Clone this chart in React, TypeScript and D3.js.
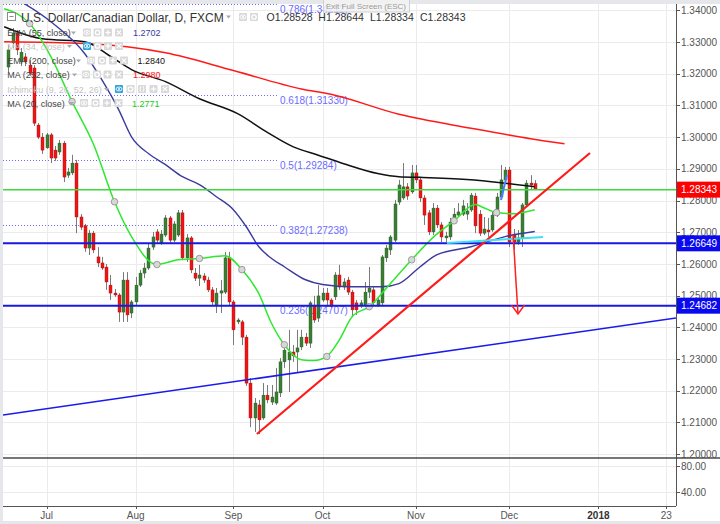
import React from 'react';
import * as d3 from 'd3';

// ---------------- data ----------------
const START_DATE = '2017-06-20';
const FIRST_INDEX = -9;

const opens = [
  1.3221, 1.3297, 1.3328, 1.3237, 1.3253, 1.3227, 1.3218, 1.3038, 1.3000, 1.2966,
  1.3007, 1.2959, 1.2953, 1.2981, 1.2880, 1.2887, 1.2918, 1.2748, 1.2720, 1.2650,
  1.2697, 1.2622, 1.2603, 1.2590, 1.2533, 1.2508, 1.2502, 1.2448, 1.2549, 1.2445,
  1.2480, 1.2533, 1.2571, 1.2587, 1.2653, 1.2701, 1.2666, 1.2691, 1.2745, 1.2675,
  1.2691, 1.2761, 1.2619, 1.2682, 1.2571, 1.2555, 1.2562, 1.2549, 1.2518, 1.2470,
  1.2508, 1.2511, 1.2619, 1.2480, 1.2417, 1.2417, 1.2369, 1.2224, 1.2114, 1.2155,
  1.2114, 1.2186, 1.2164, 1.2161, 1.2193, 1.2291, 1.2297, 1.2322, 1.2322, 1.2338,
  1.2369, 1.2350, 1.2470, 1.2429, 1.2486, 1.2508, 1.2486, 1.2496, 1.2565, 1.2527,
  1.2549, 1.2511, 1.2477, 1.2470, 1.2470, 1.2511, 1.2518, 1.2470, 1.2477, 1.2619,
  1.2644, 1.2675, 1.2795, 1.2808, 1.2843, 1.2827, 1.2887, 1.2865, 1.2808, 1.2761,
  1.2701, 1.2776, 1.2723, 1.2682, 1.2685, 1.2732, 1.2754, 1.2757, 1.2757, 1.2770,
  1.2814, 1.2757, 1.2697, 1.2707, 1.2707, 1.2754, 1.2811, 1.2865, 1.2896, 1.2694,
  1.2669, 1.2682, 1.2786, 1.2855, 1.28528,
];
const highs = [
  1.3291, 1.3344, 1.3338, 1.3281, 1.3265, 1.3243, 1.3227, 1.3044, 1.3013, 1.3013,
  1.3013, 1.2972, 1.2991, 1.2988, 1.2903, 1.2944, 1.2928, 1.2757, 1.2726, 1.2707,
  1.2704, 1.2653, 1.2622, 1.2600, 1.2565, 1.2521, 1.2508, 1.2574, 1.2574, 1.2486,
  1.2559, 1.2581, 1.2603, 1.2666, 1.2701, 1.2710, 1.2707, 1.2754, 1.2751, 1.2735,
  1.2770, 1.2770, 1.2694, 1.2688, 1.2587, 1.2597, 1.2571, 1.2559, 1.2527, 1.2524,
  1.2549, 1.2638, 1.2638, 1.2486, 1.2429, 1.2423, 1.2376, 1.2240, 1.2177, 1.2171,
  1.2224, 1.2218, 1.2218, 1.2272, 1.2303, 1.2344, 1.2392, 1.2344, 1.2392, 1.2392,
  1.2382, 1.2483, 1.2499, 1.2533, 1.2524, 1.2524, 1.2492, 1.2574, 1.2597, 1.2555,
  1.2559, 1.2518, 1.2486, 1.2486, 1.2543, 1.2590, 1.2527, 1.2492, 1.2628, 1.2660,
  1.2691, 1.2802, 1.2865, 1.2918, 1.2855, 1.2912, 1.2912, 1.2874, 1.2817, 1.2770,
  1.2792, 1.2786, 1.2732, 1.2701, 1.2745, 1.2776, 1.2792, 1.2802, 1.2792, 1.2824,
  1.2824, 1.2770, 1.2748, 1.2745, 1.2764, 1.2824, 1.2912, 1.2906, 1.2906, 1.2710,
  1.2707, 1.2792, 1.2865, 1.2880, 1.28644,
];
const lows = [
  1.3205, 1.3281, 1.3259, 1.3224, 1.3224, 1.3193, 1.3035, 1.2994, 1.2947, 1.2963,
  1.2918, 1.2925, 1.2944, 1.2858, 1.2871, 1.2880, 1.2697, 1.2707, 1.2638, 1.2628,
  1.2634, 1.2590, 1.2581, 1.2518, 1.2486, 1.2496, 1.2417, 1.2417, 1.2417, 1.2429,
  1.2470, 1.2527, 1.2555, 1.2581, 1.2644, 1.2666, 1.2660, 1.2685, 1.2663, 1.2669,
  1.2685, 1.2612, 1.2606, 1.2571, 1.2546, 1.2530, 1.2540, 1.2511, 1.2470, 1.2445,
  1.2445, 1.2505, 1.2470, 1.2344, 1.2410, 1.2344, 1.2215, 1.2085, 1.2070, 1.2063,
  1.2108, 1.2161, 1.2155, 1.2155, 1.2180, 1.2272, 1.2196, 1.2291, 1.2256, 1.2328,
  1.2341, 1.2335, 1.2414, 1.2417, 1.2480, 1.2464, 1.2461, 1.2486, 1.2518, 1.2518,
  1.2502, 1.2432, 1.2439, 1.2461, 1.2464, 1.2492, 1.2467, 1.2464, 1.2467, 1.2606,
  1.2628, 1.2669, 1.2786, 1.2802, 1.2802, 1.2821, 1.2855, 1.2795, 1.2723, 1.2691,
  1.2691, 1.2713, 1.2669, 1.2669, 1.2675, 1.2726, 1.2748, 1.2751, 1.2739, 1.2764,
  1.2697, 1.2688, 1.2691, 1.2685, 1.2701, 1.2748, 1.2805, 1.2858, 1.2653, 1.2644,
  1.2660, 1.2653, 1.2780, 1.2833, 1.28334,
];
const closes = [
  1.3275, 1.3328, 1.3275, 1.3268, 1.3237, 1.3202, 1.3044, 1.3000, 1.2959, 1.3007,
  1.2934, 1.2934, 1.2981, 1.2874, 1.2890, 1.2918, 1.2748, 1.2716, 1.2650, 1.2697,
  1.2644, 1.2603, 1.2587, 1.2543, 1.2508, 1.2502, 1.2448, 1.2549, 1.2439, 1.2480,
  1.2533, 1.2571, 1.2587, 1.2650, 1.2685, 1.2675, 1.2694, 1.2745, 1.2675, 1.2726,
  1.2761, 1.2619, 1.2682, 1.2581, 1.2555, 1.2565, 1.2549, 1.2518, 1.2480, 1.2508,
  1.2515, 1.2619, 1.2480, 1.2392, 1.2423, 1.2369, 1.2224, 1.2114, 1.2161, 1.2108,
  1.2186, 1.2171, 1.2180, 1.2196, 1.2291, 1.2328, 1.2322, 1.2310, 1.2335, 1.2369,
  1.2350, 1.2477, 1.2423, 1.2499, 1.2508, 1.2486, 1.2470, 1.2565, 1.2527, 1.2543,
  1.2511, 1.2455, 1.2455, 1.2477, 1.2511, 1.2524, 1.2477, 1.2486, 1.2622, 1.2650,
  1.2685, 1.2789, 1.2849, 1.2843, 1.2814, 1.2887, 1.2865, 1.2808, 1.2754, 1.2701,
  1.2776, 1.2723, 1.2685, 1.2688, 1.2732, 1.2757, 1.2764, 1.2783, 1.2767, 1.2817,
  1.2720, 1.2697, 1.2710, 1.2701, 1.2754, 1.2811, 1.2865, 1.2896, 1.2669, 1.2669,
  1.2682, 1.2786, 1.2855, 1.2849, 1.28343,
];

// indicator curves: [bar index, price]
const ema55Points: [number, number][] = [
  [-8, 1.3443], [1, 1.3364], [9, 1.3263], [13, 1.3181], [17, 1.3086], [20, 1.3001],
  [24, 1.2948], [28, 1.2913], [32, 1.2875], [36, 1.2850], [40, 1.2812], [44, 1.2771],
  [47, 1.2718], [50, 1.2654], [53, 1.2617], [56, 1.2591], [61, 1.2550], [65, 1.2535],
  [72, 1.2528], [79, 1.2528], [83, 1.2538], [88, 1.2591], [92, 1.2629], [100, 1.2654],
  [108, 1.2686], [115, 1.2702],
];
const ema200Points: [number, number][] = [
  [-10, 1.3348], [-1, 1.3310], [9, 1.3301], [15, 1.3255], [20, 1.3213], [28, 1.3175],
  [36, 1.3121], [45, 1.3074], [52, 1.3015], [58, 1.2970], [64, 1.2943], [70, 1.2916],
  [78, 1.2885], [83, 1.2875], [88, 1.2873], [99, 1.2866], [107, 1.2856], [115, 1.2843],
];
const ma252Points: [number, number][] = [
  [-10, 1.3301], [9, 1.3295], [28, 1.3266], [44, 1.3210], [60, 1.3152], [67, 1.3135],
  [83, 1.3072], [100, 1.3028], [114, 1.2995], [122, 1.2979],
];
const ma20Points: [number, number][] = [
  [-10, 1.3405], [-4, 1.3358], [1, 1.3254], [6, 1.3112], [11, 1.2979], [16, 1.2796],
  [20, 1.2686], [26, 1.2598], [31, 1.2613], [36, 1.2617], [42, 1.2626], [46, 1.2582],
  [50, 1.2506], [53, 1.2412], [56, 1.2345], [60, 1.2298], [63, 1.2295], [66, 1.2308],
  [69, 1.2361], [72, 1.2434], [76, 1.2465], [81, 1.2538], [86, 1.2613], [91, 1.2683],
  [96, 1.2736], [101, 1.2787], [103, 1.2777], [106, 1.2762], [110, 1.2758], [112, 1.2762],
  [115, 1.2771],
];
const ma20MarkerIdx = [-4, 6, 16, 26, 36, 46, 56, 66, 76, 86, 96, 106];

const fibRatios = ['0.786', '0.618', '0.5', '0.382', '0.236'];
const fibPrices = [1.34212, 1.3133, 1.29284, 1.27238, 1.24707];

const hLinePrices = [1.28343, 1.26649, 1.24682];

const priceTicks = [1.2, 1.21, 1.22, 1.23, 1.24, 1.25, 1.26, 1.27, 1.28, 1.29, 1.3, 1.31, 1.32, 1.33, 1.34];
const lowerTicks = [80, 40];
const timeTickDates = ['2017-07-03', '2017-08-01', '2017-09-01', '2017-10-02', '2017-11-01', '2017-12-01', '2018-01-01', '2018-01-23'];
const timeTickLabels = ['Jul', 'Aug', 'Sep', 'Oct', 'Nov', 'Dec', '2018', '23'];

// drawings: [bar index, price]
const redTrend: [number, number][] = [[49.55, 1.20634], [128.0, 1.29498]];
const blueTrend: [number, number][] = [[-10.27, 1.21233], [148.27, 1.24293]];
const arrowLine: [number, number][] = [[109.9, 1.2691], [111.05, 1.2442]];
const cyanLine: [number, number][] = [[94.33, 1.26659], [116.94, 1.26848]];
const blueStroke: [number, number][] = [[107.04, 1.28016], [108.45, 1.28804]];

const legendTitle = 'U.S. Dollar/Canadian Dollar, D, FXCM';
const ohlcLabels = ['O1.28528', 'H1.28644', 'L1.28334', 'C1.28343'];
const indicatorNames = ['EMA (55, close)', 'MA (34, close)', 'EMA (200, close)', 'MA (252, close)', 'Ichimoku (9, 26, 52, 26)', 'MA (20, close)'];
const indicatorValues = ['1.2702', '', '1.2840', '1.2980', '', '1.2771'];

// ---------------- component ----------------
const FONT = "'Liberation Sans', Arial, sans-serif";

function Btn({ x, y, kind, blue }: { x: number; y: number; kind: string; blue?: boolean }) {
  const cx = x + 4, cy = y + 4;
  return (
    <g>
      <rect x={x} y={y} width={8} height={8} rx={1} fill={blue ? '#2ea3dd' : '#d9d9d9'} />
      {kind === 'eye' && (<>
        <ellipse cx={cx} cy={cy} rx={3} ry={2} fill="none" stroke="#fff" strokeWidth={0.9} />
        <circle cx={cx} cy={cy} r={1} fill="#fff" />
      </>)}
      {kind === 'gear' && <circle cx={cx} cy={cy} r={2.2} fill="none" stroke="#fff" strokeWidth={1.3} />}
      {kind === 'plus' && (<>
        <line x1={cx - 2.5} x2={cx + 2.5} y1={cy} y2={cy} stroke="#fff" strokeWidth={1.2} />
        <line x1={cx} x2={cx} y1={cy - 2.5} y2={cy + 2.5} stroke="#fff" strokeWidth={1.2} />
      </>)}
      {kind === 'x' && (<>
        <line x1={cx - 2.2} x2={cx + 2.2} y1={cy - 2.2} y2={cy + 2.2} stroke="#fff" strokeWidth={1.2} />
        <line x1={cx - 2.2} x2={cx + 2.2} y1={cy + 2.2} y2={cy - 2.2} stroke="#fff" strokeWidth={1.2} />
      </>)}
      {kind === 'paren' && (<>
        <path d={`M${cx - 1} ${cy - 3} Q${cx - 3} ${cy} ${cx - 1} ${cy + 3}`} fill="none" stroke="#fff" strokeWidth={0.9} />
        <path d={`M${cx + 1} ${cy - 3} Q${cx + 3} ${cy} ${cx + 1} ${cy + 3}`} fill="none" stroke="#fff" strokeWidth={0.9} />
      </>)}
    </g>
  );
}

function Dropdown({ x, y }: { x: number; y: number }) {
  return <path d={`M${x} ${y} L${x + 5} ${y} L${x + 2.5} ${y + 3} Z`} fill="#a8a8a8" />;
}

export default function App() {
  React.useEffect(() => {
    document.body.style.margin = '0';
  }, []);

  const W = 720, H = 524;
  const left = 3, right = 676, top = 4, paneBottom = 458, axisBottom = 506;

  const x = d3.scaleLinear().domain([-10.27, 148.27]).range([left, right]);
  const y = d3.scaleLinear().domain([1.2, 1.34]).range([454.1, 10.3]);
  const yLow = d3.scaleLinear().domain([40, 80]).range([492, 466]);

  const curve = d3.line<[number, number]>().x(d => x(d[0])).y(d => y(d[1])).curve(d3.curveMonotoneX);
  const straight = d3.line<[number, number]>().x(d => x(d[0])).y(d => y(d[1]));

  const barIndexOf = (s: string) => {
    const start = new Date(START_DATE + 'T00:00:00Z');
    const end = new Date(s + 'T00:00:00Z');
    let n = 0;
    for (const d = new Date(start); d < end; d.setUTCDate(d.getUTCDate() + 1)) {
      const wd = d.getUTCDay();
      if (wd !== 0 && wd !== 6) n++;
    }
    return FIRST_INDEX + n;
  };
  const timeTickX = timeTickDates.map(d => x(barIndexOf(d)));

  const candles = opens.map((o, i) => ({ idx: FIRST_INDEX + i, o, h: highs[i], l: lows[i], c: closes[i] }));

  const markers = ma20Points.filter(p => ma20MarkerIdx.includes(p[0]));

  const aEnd = [x(arrowLine[1][0]), y(arrowLine[1][1])];

  const rowBaselines = [36, 49.5, 64, 78, 92.5, 106.5];
  const rowLayout = [
    { dd: 71, btns: [83, 93.5, 104, 115], kinds: ['eye', 'gear', 'plus', 'x'], blue: -1, val: 133, color: '#3b3b9e', faded: false },
    { dd: 67, btns: [83, 93.5, 104, 115], kinds: ['eye', 'gear', 'plus', 'x'], blue: 0, val: 0, color: '', faded: true },
    { dd: 76, btns: [87, 98, 109, 120], kinds: ['eye', 'gear', 'plus', 'x'], blue: -1, val: 137.5, color: '#111', faded: false },
    { dd: 72, btns: [82, 93, 103.5, 115], kinds: ['eye', 'gear', 'plus', 'x'], blue: -1, val: 133, color: '#ff1a1a', faded: false },
    { dd: 104, btns: [115, 126.5, 138, 149.5, 161], kinds: ['eye', 'gear', 'paren', 'plus', 'x'], blue: 0, val: 0, color: '', faded: true },
    { dd: 69, btns: [80, 91.5, 103, 114.5], kinds: ['eye', 'gear', 'plus', 'x'], blue: -1, val: 132, color: '#22cc22', faded: false },
  ];

  const labelBox = (p: number, fill: string) => (
    <g key={'lb' + p}>
      <rect x={677} y={y(p) - 8} width={43} height={16} fill={fill} />
      <text x={681} y={y(p) + 3.6} fontSize={10} fill="#fff" fontFamily={FONT}>{p.toFixed(5)}</text>
    </g>
  );

  return (
    <svg width={W} height={H} style={{ position: 'absolute', left: 0, top: 0, display: 'block' }} fontFamily={FONT}>
      <defs>
        <clipPath id="pane">
          <rect x={left} y={top} width={right - left} height={paneBottom - top} />
        </clipPath>
      </defs>
      <rect x={0} y={0} width={W} height={H} fill="#e5e7eb" />
      <rect x={left} y={top} width={W - left} height={521 - top} fill="#ffffff" />

      {/* grid */}
      {priceTicks.map(t => (
        <line key={'g' + t} x1={left} x2={right} y1={Math.round(y(t)) + 0.5} y2={Math.round(y(t)) + 0.5} stroke="#ebebeb" />
      ))}
      {lowerTicks.map(t => (
        <line key={'gl' + t} x1={left} x2={right} y1={Math.round(yLow(t)) + 0.5} y2={Math.round(yLow(t)) + 0.5} stroke="#ebebeb" />
      ))}
      {timeTickX.map((tx, i) => (
        <line key={'gv' + i} x1={Math.round(tx) + 0.5} x2={Math.round(tx) + 0.5} y1={top} y2={axisBottom} stroke="#ebebeb" />
      ))}

      <g clipPath="url(#pane)">
        {/* fib levels */}
        {fibPrices.map((p, i) => (
          <g key={'fib' + i}>
            <line x1={left} x2={277} y1={Math.round(y(p)) + 0.5} y2={Math.round(y(p)) + 0.5} stroke="#6b6bff" strokeDasharray="1 2" />
            <text x={280} y={y(p) + 9} fontSize={10} fill="#6b6bff">{`${fibRatios[i]}(${p.toFixed(5)})`}</text>
          </g>
        ))}

        {/* candles */}
        {candles.map(d => {
          const cx = Math.round(x(d.idx));
          const up = d.c >= d.o;
          const yTop = y(Math.max(d.o, d.c));
          const yBot = y(Math.min(d.o, d.c));
          return (
            <g key={'c' + d.idx}>
              <line x1={cx + 0.5} x2={cx + 0.5} y1={y(d.h)} y2={y(d.l)} stroke="#7a7a7a" />
              <rect x={cx - 1} y={yTop} width={3} height={Math.max(1, yBot - yTop)}
                fill={up ? '#3a7f33' : '#f01414'} stroke={up ? '#245a24' : '#a30d0d'} strokeWidth={0.4} />
            </g>
          );
        })}

        {/* moving averages */}
        <path d={curve(ma252Points) || ''} fill="none" stroke="#ff1a1a" strokeWidth={1.5} />
        <path d={curve(ema200Points) || ''} fill="none" stroke="#111" strokeWidth={1.5} />
        <path d={curve(ema55Points) || ''} fill="none" stroke="#3b3b9e" strokeWidth={1.4} />
        <path d={curve(ma20Points) || ''} fill="none" stroke="#2ee82e" strokeWidth={1.5} />
        {markers.map(p => (
          <circle key={'m' + p[0]} cx={x(p[0])} cy={y(p[1])} r={3.3} fill="#d7d7d7" stroke="#8a8a8a" strokeWidth={0.8} />
        ))}

        {/* drawings */}
        <line x1={left} x2={right} y1={y(hLinePrices[0])} y2={y(hLinePrices[0])} stroke="#3fd83f" strokeWidth={1.5} />
        <line x1={left} x2={right} y1={y(hLinePrices[1])} y2={y(hLinePrices[1])} stroke="#1818e0" strokeWidth={2} />
        <line x1={left} x2={right} y1={y(hLinePrices[2])} y2={y(hLinePrices[2])} stroke="#1818e0" strokeWidth={2} />
        <path d={straight(blueTrend) || ''} stroke="#1a1aee" strokeWidth={1.6} fill="none" />
        <path d={straight(redTrend) || ''} stroke="#ff1a1a" strokeWidth={2.2} fill="none" />
        <path d={straight(cyanLine) || ''} stroke="#3fe0f0" strokeWidth={2} fill="none" />
        <path d={straight(blueStroke) || ''} stroke="#4a7aff" strokeWidth={2} fill="none" />
        <path d={straight(arrowLine) || ''} stroke="#ff2020" strokeWidth={1.5} fill="none" />
        <path d={`M${aEnd[0] - 6.5} ${aEnd[1] - 9} L${aEnd[0]} ${aEnd[1]} L${aEnd[0] + 6.5} ${aEnd[1] - 9}`} stroke="#ff2020" strokeWidth={1.5} fill="none" />
      </g>

      {/* axes */}
      <line x1={right + 0.5} x2={right + 0.5} y1={top} y2={axisBottom} stroke="#555" />
      <line x1={left} x2={W} y1={paneBottom} y2={paneBottom} stroke="#4a4a4a" strokeWidth={1.5} />
      <line x1={left} x2={right} y1={axisBottom + 0.5} y2={axisBottom + 0.5} stroke="#555" />
      {priceTicks.map(t => (
        <g key={'pt' + t}>
          <line x1={right} x2={right + 4} y1={Math.round(y(t)) + 0.5} y2={Math.round(y(t)) + 0.5} stroke="#555" />
          <text x={681} y={y(t) + 3.6} fontSize={10} fill="#555">{t.toFixed(5)}</text>
        </g>
      ))}
      {lowerTicks.map(t => (
        <g key={'lt' + t}>
          <line x1={right} x2={right + 4} y1={Math.round(yLow(t)) + 0.5} y2={Math.round(yLow(t)) + 0.5} stroke="#555" />
          <text x={681} y={yLow(t) + 3.6} fontSize={10} fill="#555">{t.toFixed(2)}</text>
        </g>
      ))}
      {timeTickX.map((tx, i) => (
        <g key={'tt' + i}>
          <line x1={Math.round(tx) + 0.5} x2={Math.round(tx) + 0.5} y1={axisBottom} y2={axisBottom + 3} stroke="#555" />
          <text x={tx} y={519} fontSize={10} textAnchor="middle" fill={timeTickLabels[i] === '2018' ? '#333' : '#555'}
            fontWeight={timeTickLabels[i] === '2018' ? 'bold' : 'normal'}>{timeTickLabels[i]}</text>
        </g>
      ))}
      {labelBox(hLinePrices[0], '#ff0000')}
      {labelBox(hLinePrices[1], '#0a0af0')}
      {labelBox(hLinePrices[2], '#0a0af0')}

      {/* legend */}
      <rect x={7.5} y={12.5} width={8} height={8} fill="none" stroke="#888" />
      <line x1={9.5} x2={13.5} y1={16.5} y2={16.5} stroke="#888" />
      <text x={21} y={21.5} fontSize={12} fill="#333">{legendTitle}</text>
      <Dropdown x={226} y={15.5} />
      <Btn x={239} y={13} kind="eye" />
      <Btn x={250} y={13} kind="gear" />
      {ohlcLabels.map((t, i) => (
        <text key={'ohlc' + i} x={[266.5, 318.3, 370, 420][i]} y={21} fontSize={10.5} fill="#333">{t}</text>
      ))}
      {indicatorNames.map((name, i) => {
        const L = rowLayout[i];
        const b = rowBaselines[i];
        return (
          <g key={'row' + i}>
            <text x={7.3} y={b} fontSize={9} fill={L.faded ? '#c4c4c4' : '#444'}>{name}</text>
            <Dropdown x={L.dd} y={b - 4.5} />
            {L.btns.map((bx, j) => (
              <Btn key={j} x={bx} y={b - 7.5} kind={L.kinds[j]} blue={j === L.blue} />
            ))}
            {indicatorValues[i] && (
              <text x={L.val} y={b} fontSize={9} fill={L.color}>{indicatorValues[i]}</text>
            )}
          </g>
        );
      })}

      {/* tooltip */}
      <rect x={323.5} y={-1} width={86} height={13} fill="#f3f3f3" fillOpacity={0.88} stroke="#cfcfcf" />
      <text x={326} y={9} fontSize={8} fill="#9a9a9a">Exit Full Screen (ESC)</text>
    </svg>
  );
}
